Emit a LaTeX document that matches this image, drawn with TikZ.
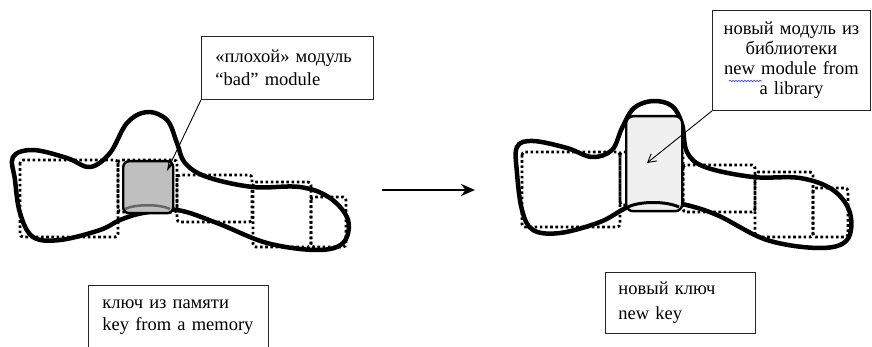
\documentclass[tikz,border=0pt]{standalone}
\usepackage{fontspec}
\setmainfont{Liberation Serif}
\usetikzlibrary{arrows.meta,decorations.pathmorphing}
\begin{document}
\begin{tikzpicture}[x=1pt,y=-1pt,
  blob/.style={line width=4.5pt, line join=round},
  dotbox/.style={line width=2.8pt, dash pattern=on 2.6pt off 2.6pt, rounded corners=3pt},
  labelbox/.style={draw=black!85, line width=0.9pt, fill=white, anchor=north west, inner ysep=2pt},
  modbox/.style={draw, line width=2.4pt, anchor=north west, inner sep=0pt},
  pointer/.style={line width=0.9pt},
]
\useasboundingbox (0,0) rectangle (872,347);

% ---------- left key ----------
\draw[dotbox] (20,160) rectangle (118,237);
\draw[dotbox] (118,160) rectangle (177,212);
\draw[dotbox] (177,175) rectangle (252,222);
\draw[dotbox] (253,182) rectangle (311,247);
\draw[dotbox] (311,197) rectangle (346,247);
\draw[blob] plot[smooth cycle, tension=0.6] coordinates {
 (13,157) (33,150) (67,158) (90,167) (110,153) (127,123) (147,112) (167,120)
 (177,143) (185,163) (207,177) (253,187) (300,187) (330,198) (348,220)
 (343,243) (317,250) (267,243) (217,223) (177,210) (143,213) (120,220)
 (100,230) (60,240) (33,237) (20,213) (15,180)};
\node[modbox, fill=gray!50, rounded corners=6pt, minimum width=50pt, minimum height=52pt] (badmod) at (122,160) {};
\draw[line width=2.5pt, black!60] (125,209) .. controls (135,204) and (160,204) .. (170,209);

% ---------- arrow ----------
\coordinate (arrS) at (382,190);
\coordinate (arrE) at (475,190);
\draw[line width=2.2pt, -{Stealth[length=14pt,width=12pt]}] (arrS) -- (arrE);

% ---------- right key ----------
\draw[dotbox] (522,152) rectangle (620,227);
\draw[dotbox] (620,152) rectangle (683,205);
\draw[dotbox] (683,165) rectangle (755,212);
\draw[dotbox] (755,172) rectangle (813,237);
\draw[dotbox] (813,188) rectangle (848,237);
\draw[blob] plot[smooth cycle, tension=0.6] coordinates {
 (517,147) (533,141) (567,148) (592,157) (612,150) (622,128) (634,108) (653,101)
 (672,106) (682,124) (687,152) (705,167) (753,177) (800,178) (833,190) (850,213)
 (847,240) (820,248) (767,240) (717,215) (682,204) (653,201) (628,207) (600,222)
 (560,233) (533,230) (522,210) (517,173)};
\node[modbox, fill=gray!12, rounded corners=7pt, minimum width=56pt, minimum height=95pt] (newmod) at (625,115) {};
\draw[line width=3pt] (628,207) .. controls (640,201) and (666,201) .. (679,207);

% ---------- labels ----------
\node[labelbox, text width=144pt, inner xsep=14pt, align=left, minimum height=63pt,
      font=\fontsize{18.5}{23}\selectfont] (badlbl) at (201,36) {«плохой» модуль\\“bad” module};
\coordinate (badtip) at (167,171);
\draw[pointer, -{Stealth[length=9pt,width=5pt]}] (badlbl.south west) -- (badtip);

\node[labelbox, text width=150pt, inner xsep=4pt, align=center, minimum height=100pt,
      font=\fontsize{18.5}{20}\selectfont] (newlbl) at (712,10) {новый модуль из\\библиотеки\\new module from\\a library};
\draw[blue!80, line width=0.6pt, decorate, decoration={snake, amplitude=0.8pt, segment length=3pt}] (729,81) -- (762,81);
\coordinate (newtip) at (647,163);
\draw[pointer, -{Straight Barb[length=8pt,width=9pt]}] (newlbl.south west) -- (newtip);

\node[labelbox, text width=152pt, inner xsep=14pt, align=left, minimum height=64pt,
      font=\fontsize{18.5}{22}\selectfont] (keymem) at (88,285) {ключ из памяти\\key from a memory};
\node[labelbox, text width=124pt, inner xsep=13pt, align=left, minimum height=61pt,
      font=\fontsize{18.5}{25}\selectfont] (newkey) at (605,272) {новый ключ\\new key};
\end{tikzpicture}
\end{document}
